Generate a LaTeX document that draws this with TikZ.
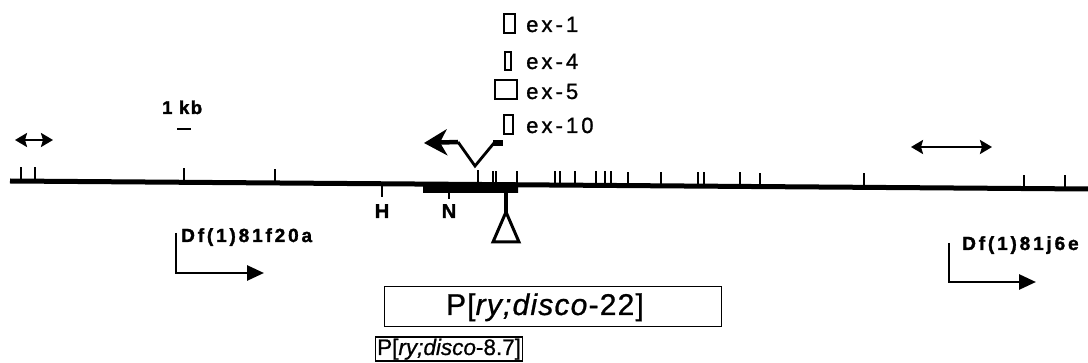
\documentclass[tikz,border=0pt]{standalone}
\usepackage{fontspec}
\setmainfont{Liberation Sans}
\newfontfamily\spaced[LetterSpace=14, FakeBold=1.1]{Liberation Sans}
\newfontfamily\spacedb[LetterSpace=15, BoldFeatures={FakeBold=1.6}]{Liberation Sans}
\newfontfamily\lightsp[LetterSpace=8, BoldFeatures={FakeBold=1.6}]{Liberation Sans}
\newfontfamily\slight[LetterSpace=4, FakeBold=0.8]{Liberation Sans}
\newfontfamily\plain[FakeBold=0.8]{Liberation Sans}
\usetikzlibrary{arrows.meta}
\begin{document}
\begin{tikzpicture}[x=1pt,y=-1pt,
  exlbl/.style={inner sep=0, anchor=base west, font=\spaced\fontsize{22}{26}\selectfont},
  boldlbl/.style={inner sep=0, anchor=base west, font=\spacedb\bfseries\fontsize{19}{22}\selectfont},
  hnlbl/.style={inner sep=0, anchor=base, font=\spacedb\bfseries\fontsize{20}{22}\selectfont},
  exbox/.style={draw, line width=1.8pt},
  tick/.style={line width=1.9pt},
  dbl/.style={line width=2.4pt, {Stealth[length=12pt,width=14pt,inset=2pt]}-{Stealth[length=12pt,width=14pt,inset=2pt]}},
  dfarrow/.style={line width=2.8pt, -{Triangle[length=17pt,width=15pt]}},
  pboxstyle/.style={draw, line width=1.4pt, inner sep=0}]
\useasboundingbox (0,0) rectangle (1088,363);

% main line
\coordinate (L0) at (10,181);
\coordinate (L1) at (1088,189);
\draw[line width=5pt] (L0) -- (L1);
% ticks above the line
\foreach \x in {21,35,184,275,478,493,496,517,555,560,575,596,605,611,628,661,698,704,740,760,864,1024,1065}
  \draw[tick] (\x,{181+0.00742*(\x-10)}) -- ++(0,-14);
% thick bar under the line
\fill (423,182.5) -- (518,183.2) -- (518,193) -- (423,193) -- cycle;
% H and N ticks
\draw[tick] (382,184) -- (382,197);
\draw[tick] (449,192) -- (449,199);
\node[hnlbl] (H) at (382,218) {H};
\node[hnlbl] (N) at (449,218) {N};
% insertion
\draw[line width=3.2pt] (506,193) -- (506,213);
\draw[line width=3pt, line join=miter] (506,212) -- (519,242) -- (493,242) -- cycle;

% transcript arrow with intron
\draw[line width=4.5pt, -{Stealth[length=23pt,width=26pt,inset=7pt]}] (458,142) -- (424,143);
\draw[line width=2.8pt, line join=miter] (458,142) -- (475,166) -- (494,143);
\fill (493,140.5) rectangle (503,146.5);

% exon boxes
\draw[exbox] (504,14) rectangle (515,33);
\draw[exbox] (505,52) rectangle (511,70);
\draw[exbox] (495,80) rectangle (517,99);
\draw[exbox] (504,115) rectangle (513,134);
\node[exlbl] (ex1) at (526,32) {ex-1};
\node[exlbl] (ex4) at (526,69) {ex-4};
\node[exlbl] (ex5) at (526,99) {ex-5};
\node[exlbl] (ex10) at (526,133) {ex-10};

% scale
\node[inner sep=0, anchor=base west, font=\lightsp\bfseries\fontsize{18.5}{22}\selectfont] (kb) at (162,114) {1 kb};
\draw[line width=2.2pt] (177,129) -- (191,129);

% double arrows
\coordinate (da1) at (15,140);
\coordinate (da2) at (53,140);
\draw[dbl] (da1) -- (da2);
\coordinate (db1) at (911,147);
\coordinate (db2) at (992,147);
\draw[dbl] (db1) -- (db2);

% deficiency arrows
\coordinate (fa0) at (176,233);
\coordinate (fa1) at (176,273);
\coordinate (fa2) at (264,273);
\draw[dfarrow] (fa0) -- (fa1) -- (fa2);
\node[boldlbl] (df1) at (181,242) {Df(1)81f20a};
\coordinate (fb0) at (949,243);
\coordinate (fb1) at (949,282);
\coordinate (fb2) at (1036,282);
\draw[dfarrow] (fb0) -- (fb1) -- (fb2);
\node[boldlbl] (df2) at (962,250) {Df(1)81j6e};

% P elements
\node[pboxstyle, minimum width=337pt, minimum height=40pt, anchor=north west] (pbox) at (384,286) {};
\node[inner sep=0, anchor=base, font=\slight\fontsize{30}{34}\selectfont] (plabel) at (545,315) {P[\textit{ry;disco}-22]};
\node[pboxstyle, inner sep=1.5pt, anchor=base west, font=\plain\fontsize{22.5}{26}\selectfont] (psmall) at (375,355) {P[\textit{ry;disco}-8.7]};
\end{tikzpicture}
\end{document}
